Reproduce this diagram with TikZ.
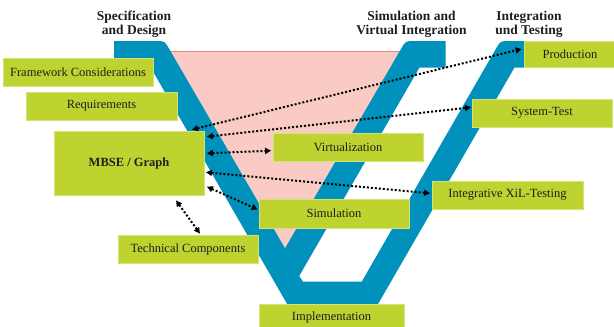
\documentclass[tikz,border=0pt]{standalone}
\usepackage{fontspec}
\setmainfont{Liberation Serif}
\usetikzlibrary{arrows.meta}
\definecolor{vblue}{RGB}{0,145,188}
\definecolor{lime}{RGB}{191,211,48}
\definecolor{limeedge}{RGB}{212,227,118}
\definecolor{pinkfill}{RGB}{250,203,197}
\definecolor{pinkedge}{RGB}{240,130,115}
\definecolor{ink}{RGB}{30,30,30}

\begin{document}
\begin{tikzpicture}[x=1pt,y=-1pt,
  box/.style={rectangle, fill=lime, draw=limeedge, line width=0.8pt, inner sep=0pt,
    font=\fontsize{12.5}{14}\selectfont, text=ink},
  phase/.style={align=center, inner sep=0pt, text=ink,
    font=\fontsize{13.5}{13.7}\selectfont\bfseries},
  link/.style={line width=2pt, dash pattern=on 2pt off 2pt,
    {Triangle[length=6pt,width=6pt]}-{Triangle[length=6pt,width=6pt]}}
]
\useasboundingbox (0,0) rectangle (614,327);

% pink wedge between the left and middle arms
\fill[pinkfill] (168,51.7) -- (402,51.7) -- (285,248.3) -- cycle;
\draw[pinkedge, line width=1.2pt] (168,51.7) -- (402,51.7);

% the blue double-V band
\fill[vblue] (114,41) -- (155.6,41) .. controls (164.6,41) .. (169.1,48.8)
  -- (285,248.3) -- (401.1,48.8) .. controls (405.6,41) .. (414.6,41)
  -- (445.5,41) -- (445.5,67.5) -- (419.5,67.5) -- (299.2,276) -- (303,281.7)
  -- (361.7,281.7) -- (495.9,48.8) .. controls (500.4,41) .. (509.4,41)
  -- (550,41) -- (550,67.5) -- (514.5,67.5) -- (374.6,310) -- (290.6,310)
  -- (150.7,67.5) -- (114,67.5) -- cycle;

% phase headings
\node[phase] (hspec) at (134,24) {Specification\\and Design};
\node[phase] (hsim)  at (411.5,24) {Simulation and\\Virtual Integration};
\node[phase] (hint)  at (529,24) {Integration\\und Testing};

% boxes
\node[box, minimum width=150pt, minimum height=28pt] (fw)   at (78,72)    {Framework Considerations};
\node[box, minimum width=151pt, minimum height=28pt] (req)  at (101.5,106) {Requirements};
\node[box, minimum width=150pt, minimum height=64pt] (mbse) at (129,163)  {\bfseries MBSE / Graph};
\node[box, minimum width=150pt, minimum height=28pt] (virt) at (348,147)  {Virtualization};
\node[box, minimum width=92pt,  minimum height=26pt] (prod) at (570,54)   {Production};
\node[box, minimum width=140pt, minimum height=28pt] (sys)  at (542,113)  {System-Test};
\node[box, minimum width=151pt, minimum height=28pt] (xil)  at (507.5,195) {Integrative XiL-Testing};
\node[box, minimum width=150pt, minimum height=29pt] (sim)  at (334,213.5) {Simulation};
\node[box, minimum width=140pt, minimum height=28pt] (tech) at (188,249)  {Technical Components};
\node[box, minimum width=145pt, minimum height=26pt] (impl) at (331.5,317) {Implementation};

% dotted links from the model
\draw[link] ([xshift=63pt,yshift=1pt]mbse.north) -- ([xshift=-2pt,yshift=5pt]prod.west);
\draw[link] ([xshift=2.5pt,yshift=26.3pt]mbse.east) -- ([xshift=-0.5pt,yshift=5.7pt]sys.west);
\draw[link] ([xshift=2.5pt,yshift=9.7pt]mbse.east) -- ([xshift=-1.5pt,yshift=-3.7pt]virt.west);
\draw[link] ([xshift=1.5pt,yshift=-9.3pt]mbse.east) -- ([xshift=-1.5pt,yshift=1.7pt]xil.west);
\draw[link] ([xshift=2.5pt,yshift=-23.7pt]mbse.east) -- ([xshift=-1pt,yshift=4pt]sim.west);
\draw[link] ([xshift=47pt,yshift=-5pt]mbse.south) -- ([xshift=12pt,yshift=1pt]tech.north);
\end{tikzpicture}
\end{document}
